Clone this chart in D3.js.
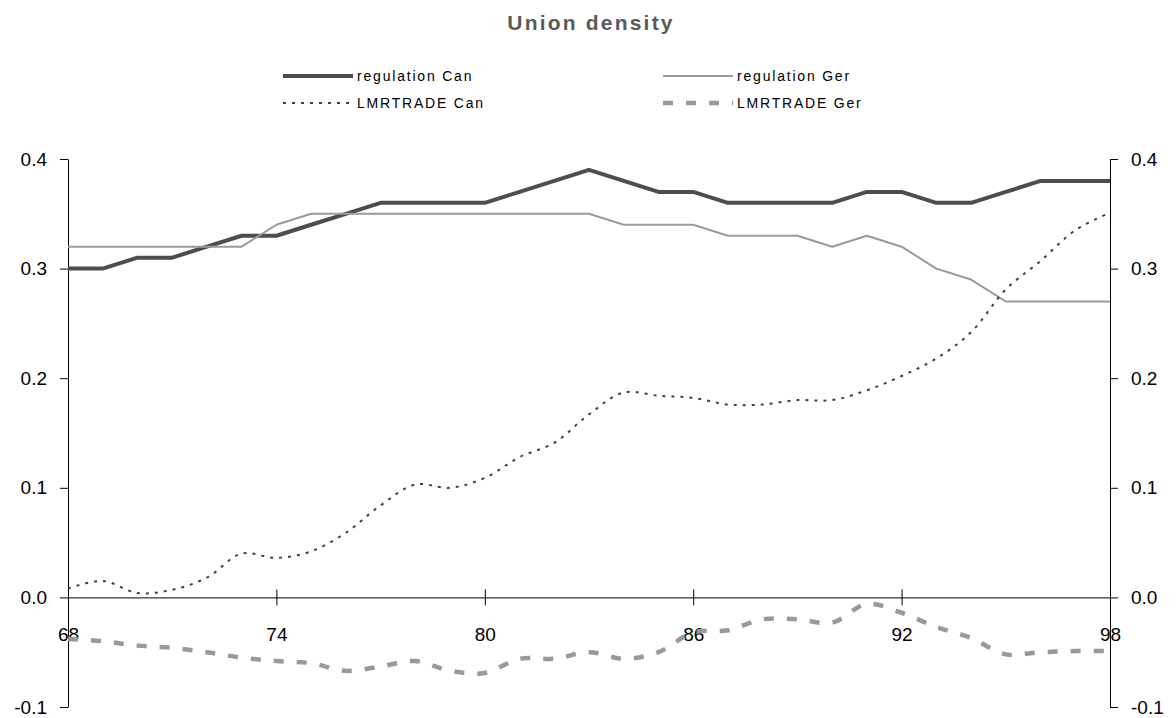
<!DOCTYPE html>
<html>
<head>
<meta charset="utf-8">
<script src="https://cdn.jsdelivr.net/npm/d3@7/dist/d3.min.js"></script>
<style>
  body { margin: 0; background: #fff; }
  svg { display: block; font-family: "Liberation Sans", Arial, sans-serif; }
</style>
</head>
<body>
<svg id="chart" width="1176" height="718"></svg>
<script>
const years = [68,69,70,71,72,73,74,75,76,77,78,79,80,81,82,83,84,85,86,87,88,89,90,91,92,93,94,95,96,97,98];
const regulationCan = [0.30,0.30,0.31,0.31,0.32,0.33,0.33,0.34,0.35,0.36,0.36,0.36,0.36,0.37,0.38,0.39,0.38,0.37,0.37,0.36,0.36,0.36,0.36,0.37,0.37,0.36,0.36,0.37,0.38,0.38,0.38];
const regulationGer = [0.32,0.32,0.32,0.32,0.32,0.32,0.34,0.35,0.35,0.35,0.35,0.35,0.35,0.35,0.35,0.35,0.34,0.34,0.34,0.33,0.33,0.33,0.32,0.33,0.32,0.30,0.29,0.27,0.27,0.27,0.27];
const lmrtradeCan = [0.008,0.015,0.004,0.007,0.018,0.040,0.036,0.042,0.059,0.084,0.103,0.100,0.109,0.128,0.141,0.167,0.187,0.184,0.182,0.176,0.176,0.180,0.180,0.189,0.202,0.218,0.242,0.281,0.307,0.335,0.351];
const lmrtradeGer = [-0.038,-0.040,-0.044,-0.046,-0.050,-0.055,-0.058,-0.060,-0.067,-0.063,-0.058,-0.067,-0.069,-0.056,-0.056,-0.050,-0.056,-0.050,-0.032,-0.030,-0.020,-0.020,-0.023,-0.006,-0.014,-0.027,-0.037,-0.052,-0.050,-0.049,-0.049];
const seriesNames = ["regulation Can","regulation Ger","LMRTRADE Can","LMRTRADE Ger"];
const xTicks = [68,74,80,86,92,98];
const yTicks = [-0.1,0.0,0.1,0.2,0.3,0.4];
const title = "Union density";

const svg = d3.select("#chart");
const x = d3.scaleLinear().domain([68,98]).range([68,1110]);
const y = d3.scaleLinear().domain([-0.1,0.4]).range([707,159]);
const fmt = d => d.toFixed(1);

// title
svg.append("text").attr("x",591).attr("y",30).attr("text-anchor","middle")
  .attr("font-size",21).attr("font-weight","bold").attr("fill","#595959")
  .attr("letter-spacing",2.2).text(title);

// axes
const left = svg.append("g").attr("transform",`translate(${x(68)},0)`)
  .call(d3.axisLeft(y).tickValues(yTicks).tickFormat(fmt).tickSizeInner(8).tickSizeOuter(0).tickPadding(13));
const right = svg.append("g").attr("transform",`translate(${x(98)},0)`)
  .call(d3.axisRight(y).tickValues(yTicks).tickFormat(fmt).tickSizeInner(8).tickSizeOuter(0).tickPadding(13));
[left,right].forEach(g=>{
  g.selectAll("text").attr("font-size",19).attr("fill","#000").attr("font-family","Liberation Sans, Arial, sans-serif");
  g.selectAll("line,path").attr("stroke","#000");
});

const y0 = y(0);
const bottom = svg.append("g").attr("transform",`translate(0,${y0})`)
  .call(d3.axisBottom(x).tickValues(xTicks).tickFormat(d=>String(d)).tickSizeInner(8).tickSizeOuter(0).tickPadding(22));
bottom.selectAll("text").attr("font-size",19).attr("fill","#000").attr("font-family","Liberation Sans, Arial, sans-serif");
bottom.selectAll("line,path").attr("stroke","#000");
bottom.selectAll(".tick line").attr("y1",-8).attr("y2",8);

// lines
const straight = d3.line().x((d,i)=>x(years[i])).y(d=>y(d));
const smooth = d3.line().x((d,i)=>x(years[i])).y(d=>y(d)).curve(d3.curveCatmullRom.alpha(0.5));

const styles = [
  {data: regulationCan, gen: straight, color:"#4d4d4d", width:4, dash:null},
  {data: regulationGer, gen: straight, color:"#9a9a9a", width:2, dash:null},
  {data: lmrtradeCan, gen: smooth, color:"#404040", width:2, dash:"3,6"},
  {data: lmrtradeGer, gen: smooth, color:"#999999", width:4.5, dash:"10,13"}
];
styles.forEach(s=>{
  svg.append("path").attr("d",s.gen(s.data)).attr("fill","none")
    .attr("stroke",s.color).attr("stroke-width",s.width)
    .attr("stroke-dasharray",s.dash).attr("stroke-linejoin","round");
});

// legend
const legendPos = [[283,76],[663,76],[283,103],[663,103]];
styles.forEach((s,i)=>{
  const [lx,ly] = legendPos[i];
  svg.append("line").attr("x1",lx).attr("x2",lx+70).attr("y1",ly).attr("y2",ly)
    .attr("stroke",s.color).attr("stroke-width",s.width).attr("stroke-dasharray",s.dash);
  svg.append("text").attr("x",lx+74).attr("y",ly+5).attr("font-size",14)
    .attr("letter-spacing",1.8).attr("fill","#000").text(seriesNames[i]);
});
</script>
</body>
</html>
